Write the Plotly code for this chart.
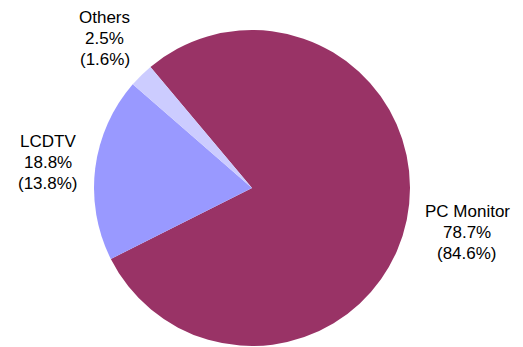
import math
import plotly.graph_objects as go

categories = ["PC Monitor", "LCDTV", "Others"]
shares = [78.7, 18.8, 2.5]
prev_shares = [84.6, 13.8, 1.6]
colors = ["#993366", "#9999FF", "#CCCCFF"]

# page has an 8px body margin; figure sized to fill the rest of the window
OFF = 8
W, H = 523 - OFF, 347 - OFF
cx, cy, r = 252 - OFF, 188 - OFF, 158
rotation = 320
label_dist = [220, 206, 210]
line_gap = 21

fig = go.Figure(go.Pie(
    labels=categories,
    values=shares,
    sort=False,
    direction="clockwise",
    rotation=rotation,
    marker=dict(colors=colors, line=dict(width=0)),
    textinfo="none",
    hoverinfo="label+percent",
    showlegend=False,
    domain=dict(x=[(cx - r) / W, (cx + r) / W], y=[max(0, 1 - (cy + r) / H), 1 - (cy - r) / H]),
))

total = sum(shares)
acc = 0.0
annotations = []
for cat, v, pv, d in zip(categories, shares, prev_shares, label_dist):
    mid = math.radians(rotation + (acc + v / 2) / total * 360)
    acc += v
    px = cx + d * math.sin(mid)
    py = cy - d * math.cos(mid)
    lines = [cat, f"{v:.1f}%", f"({pv:.1f}%)"]
    for i, t in enumerate(lines):
        annotations.append(dict(
            x=px / W, y=1 - py / H, xref="paper", yref="paper",
            yshift=-(i - 1) * line_gap,
            text=t,
            showarrow=False, xanchor="center", yanchor="middle", align="center",
            borderpad=0,
            font=dict(family="Liberation Sans, Arial, sans-serif", size=17, color="#000000"),
        ))

fig.update_layout(
    width=W, height=H,
    margin=dict(l=0, r=0, t=0, b=0),
    paper_bgcolor="white", plot_bgcolor="white",
    annotations=annotations,
)
fig.write_html("out.html")
